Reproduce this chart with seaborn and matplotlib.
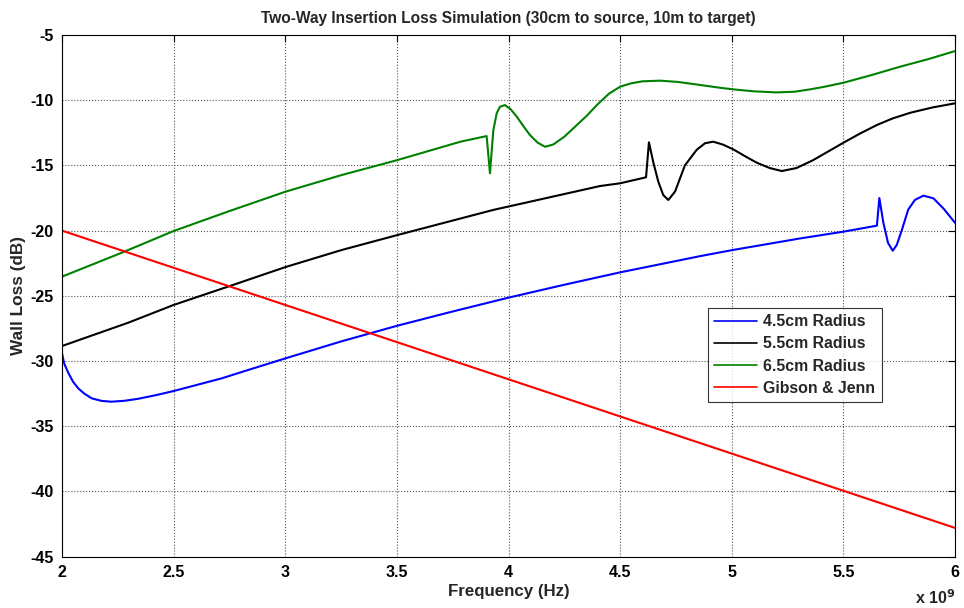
import matplotlib
matplotlib.use("Agg")
import matplotlib.pyplot as plt
from matplotlib.ticker import FuncFormatter, MultipleLocator
import seaborn as sns
import pandas as pd

# Frequency samples (Hz) and wall loss (dB) for each configuration
freq_45 = [2.00e9, 2.01e9, 2.028e9, 2.05e9, 2.073e9, 2.10e9, 2.133e9, 2.175e9, 2.22e9,
           2.28e9, 2.34e9, 2.42e9, 2.50e9, 2.60e9, 2.715e9, 2.85e9, 3.00e9,
           3.25e9, 3.50e9, 3.75e9, 4.00e9, 4.25e9, 4.50e9, 4.86e9, 5.00e9, 5.306e9,
           5.50e9, 5.65e9, 5.661e9, 5.679e9, 5.70e9, 5.721e9, 5.739e9, 5.761e9,
           5.79e9, 5.82e9, 5.858e9, 5.903e9, 5.948e9, 6.00e9]
loss_45 = [-29.4, -30.2, -30.9, -31.6, -32.1, -32.5, -32.86, -33.05, -33.12,
           -33.05, -32.9, -32.62, -32.3, -31.85, -31.33, -30.6, -29.8,
           -28.5, -27.3, -26.2, -25.14, -24.15, -23.2, -21.95, -21.5, -20.6,
           -20.08, -19.62, -17.5, -19.4, -20.95, -21.54, -21.1, -20.0,
           -18.4, -17.65, -17.32, -17.52, -18.3, -19.4]

freq_55 = [2.00e9, 2.297e9, 2.50e9, 2.76e9, 3.00e9, 3.25e9, 3.50e9, 3.93e9, 4.41e9,
           4.50e9, 4.616e9, 4.629e9, 4.649e9, 4.671e9, 4.693e9, 4.716e9, 4.746e9,
           4.79e9, 4.843e9, 4.88e9, 4.917e9, 4.96e9, 5.007e9, 5.06e9, 5.112e9,
           5.17e9, 5.224e9, 5.29e9, 5.365e9, 5.43e9, 5.50e9, 5.575e9, 5.65e9,
           5.72e9, 5.80e9, 5.90e9, 6.00e9]
loss_55 = [-28.85, -27.06, -25.7, -24.2, -22.8, -21.5, -20.35, -18.42, -16.58,
           -16.37, -15.91, -13.23, -14.8, -16.25, -17.27, -17.65, -17.0,
           -15.0, -13.8, -13.3, -13.18, -13.4, -13.77, -14.3, -14.79,
           -15.2, -15.43, -15.2, -14.59, -13.95, -13.26, -12.55, -11.9,
           -11.4, -10.96, -10.55, -10.24]

freq_65 = [2.00e9, 2.267e9, 2.50e9, 2.75e9, 3.00e9, 3.25e9, 3.50e9, 3.785e9, 3.902e9,
           3.917e9, 3.932e9, 3.947e9, 3.962e9, 3.984e9, 4.01e9, 4.037e9, 4.065e9,
           4.096e9, 4.13e9, 4.164e9, 4.20e9, 4.25e9, 4.30e9, 4.35e9, 4.40e9,
           4.45e9, 4.50e9, 4.55e9, 4.60e9, 4.679e9, 4.76e9, 4.858e9, 4.95e9,
           5.007e9, 5.10e9, 5.20e9, 5.28e9, 5.35e9, 5.42e9, 5.50e9, 5.62e9,
           5.754e9, 5.88e9, 6.00e9]
loss_65 = [-23.53, -21.7, -20.03, -18.5, -17.02, -15.75, -14.6, -13.18, -12.75,
           -15.6, -12.3, -11.0, -10.5, -10.37, -10.7, -11.26, -11.95,
           -12.67, -13.25, -13.57, -13.4, -12.8, -12.0, -11.2, -10.3,
           -9.5, -8.96, -8.7, -8.55, -8.5, -8.6, -8.83, -9.05,
           -9.17, -9.32, -9.4, -9.35, -9.17, -8.95, -8.66, -8.1,
           -7.43, -6.85, -6.23]

freq_gj = [2.0e9, 2.5e9, 3.0e9, 3.5e9, 4.0e9, 4.5e9, 5.0e9, 5.5e9, 6.0e9]
loss_gj = [-20.0, -22.85, -25.7, -28.55, -31.4, -34.25, -37.1, -39.95, -42.8]

series_names = ["4.5cm Radius", "5.5cm Radius", "6.5cm Radius", "Gibson & Jenn"]
series_colors = ["#0000FF", "#000000", "#008000", "#FF0000"]

frames = []
for name, f, l in zip(series_names,
                      [freq_45, freq_55, freq_65, freq_gj],
                      [loss_45, loss_55, loss_65, loss_gj]):
    frames.append(pd.DataFrame({"freq": f, "loss": l, "series": name}))
df = pd.concat(frames, ignore_index=True)

sns.set_style("white")
plt.rcParams["font.family"] = ["Liberation Sans", "DejaVu Sans"]
plt.rcParams["axes.unicode_minus"] = False

fig = plt.figure(figsize=(9.64, 6.08), dpi=100)
ax = fig.add_axes([0.0643, 0.0845, 0.9264, 0.8579])

sns.lineplot(data=df, x="freq", y="loss", hue="series", hue_order=series_names,
             palette=series_colors, sort=False, estimator=None, linewidth=1.5,
             ax=ax)

ax.set_xlim(2e9, 6e9)
ax.set_ylim(-45, -5)
ax.xaxis.set_major_locator(MultipleLocator(0.5e9))
ax.yaxis.set_major_locator(MultipleLocator(5))
ax.xaxis.set_major_formatter(FuncFormatter(lambda v, p: f"{v / 1e9:g}"))
ax.yaxis.set_major_formatter(FuncFormatter(lambda v, p: f"{v:g}"))

ax.grid(True, linestyle=":", color="#555555", linewidth=0.8)
ax.tick_params(direction="in", length=5, width=0.8, top=True, right=True,
               labelsize=11.5, colors="black", pad=6)
for lbl in ax.get_xticklabels() + ax.get_yticklabels():
    lbl.set_fontweight("bold")
for s in ax.spines.values():
    s.set_color("black")
    s.set_linewidth(0.8)

ax.set_title("Two-Way Insertion Loss Simulation (30cm to source, 10m to target)",
             fontsize=11.2, fontweight="bold", pad=9)
ax.set_xlabel("Frequency (Hz)", fontsize=12.2, fontweight="bold", labelpad=3)
ax.set_ylabel("Wall Loss (dB)", fontsize=12.4, fontweight="bold", labelpad=3)
ax.text(1.0, -0.078, r"x 10$^{\mathbf{9}}$", transform=ax.transAxes, ha="right",
        va="center", fontsize=11.5, fontweight="bold")

handles, labels = ax.get_legend_handles_labels()
leg = ax.legend(handles, labels, loc="upper left", bbox_to_anchor=(0.7234, 0.4766),
                fontsize=11.4, frameon=True, fancybox=False, handlelength=2.7,
                handletextpad=0.4, borderpad=0.4, labelspacing=0.45,
                borderaxespad=0)
leg.get_frame().set_edgecolor("black")
leg.get_frame().set_linewidth(0.8)
for t in leg.get_texts():
    t.set_fontweight("bold")
for line in leg.get_lines():
    line.set_linewidth(1.2)

fig.savefig("out.png", dpi=100, facecolor="white")
